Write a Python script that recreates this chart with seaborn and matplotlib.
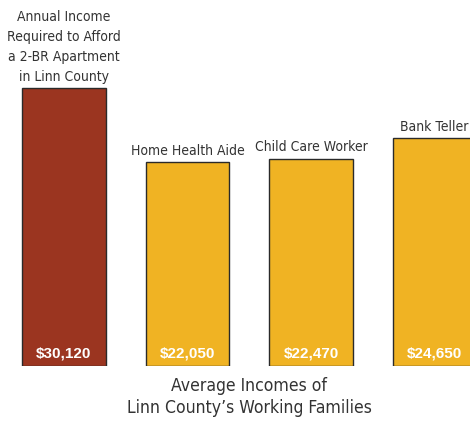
import matplotlib
matplotlib.use('Agg')
import matplotlib.pyplot as plt
import seaborn as sns
import pandas as pd

# 数据
categories = ['Annual Income\nRequired to Afford\na 2-BR Apartment\nin Linn County',
              'Home Health Aide', 'Child Care Worker', 'Bank Teller']
incomes = [30120, 22050, 22470, 24650]
bar_colors = ['#9B3520', '#F0B323', '#F0B323', '#F0B323']
footer = "Average Incomes of\nLinn County\u2019s Working Families"

sns.set_style('white')
plt.rcParams['font.family'] = ['DejaVu Sans']

df = pd.DataFrame({'job': categories, 'income': incomes})

fig = plt.figure(figsize=(4.7, 4.22), dpi=100)
ax = fig.add_axes([0, (422 - 366) / 422, 1, 366 / 422])

sns.barplot(data=df, x='job', y='income', hue='job', palette=bar_colors, saturation=1,
            legend=False, width=0.676, edgecolor='#2a2a2a', linewidth=1.0, ax=ax)

ax.set_xlim(-0.518, 3.287)
ax.set_ylim(0, 39650)
ax.axis('off')

for i, (cat, val) in enumerate(zip(categories, incomes)):
    # 柱顶上方的说明文字（窄体）
    ax.text(i, val + 450, cat, ha='center', va='bottom', fontsize=10,
            fontstretch='condensed', color='#333333', linespacing=1.55)
    # 柱内底部的金额
    ax.text(i, 1400, f'${val:,}', ha='center', va='center', fontsize=11,
            fontweight='bold', color='white', family=['Liberation Sans', 'DejaVu Sans'])

fig.text(249 / 470, 1 - 397 / 422, footer, ha='center', va='center',
         fontsize=12.6, fontstretch='condensed', color='#333333', linespacing=1.35)

fig.savefig('out.png', dpi=100)
